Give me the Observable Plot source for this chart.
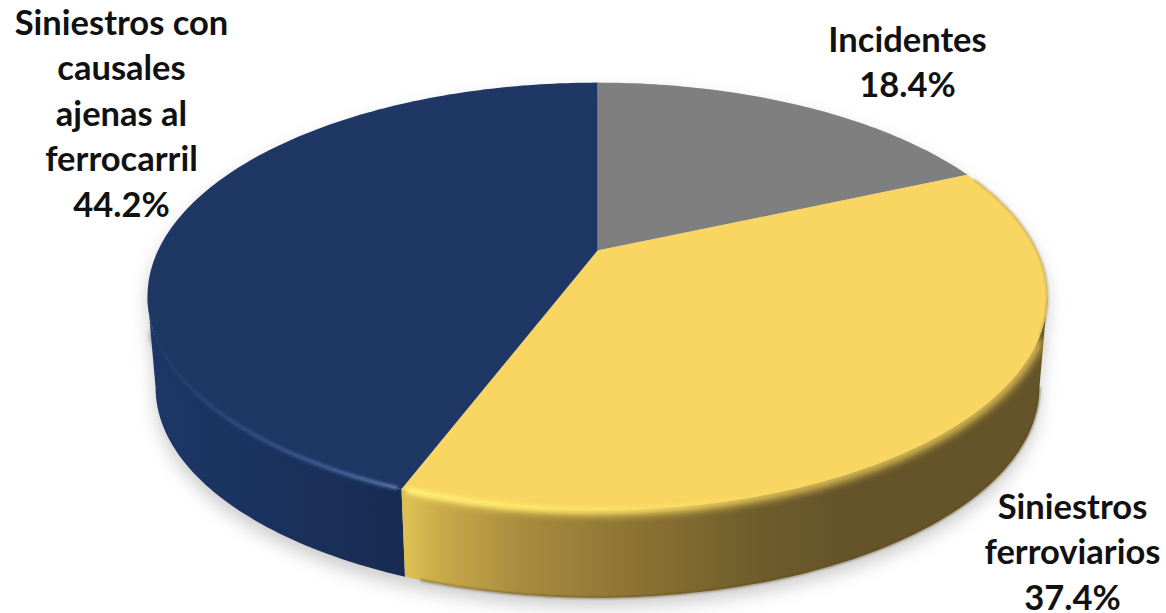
<!DOCTYPE html>
<html lang="es">
<head>
<meta charset="utf-8">
<title>Distribución de siniestros e incidentes</title>
<script src="https://cdn.jsdelivr.net/npm/d3@7"></script>
<script src="https://cdn.jsdelivr.net/npm/@observablehq/plot@0.6"></script>
<style>
  html, body { margin: 0; padding: 0; background: #fff; }
  svg { display: block; }
</style>
</head>
<body>
<div id="chart"></div>
<script>
// Shares of events, clockwise from twelve o'clock
const categorias = ["Incidentes", "Siniestros ferroviarios", "Siniestros con causales ajenas al ferrocarril"];
const porcentajes = [18.4, 37.4, 44.2];
const etiquetas = ["Incidentes", "Siniestros\nferroviarios", "Siniestros con\ncausales\najenas al\nferrocarril"];
const coloresCara = ["#7f7f7f", "#f9d662", "#1f3765"];

const W = 1166, H = 613;
const PX = 450;                 // pixels per plane unit
const apexX = 597, apexY = 250; // where the slices meet, in pixels
const persp = 0.215, sx = 0.9766, sy = 0.4533; // tilt of the disc
const escalaBase = 0.982, grosor = 92 / PX;    // lower rim of the drum

// Angles where the disc's rim turns from front to back
const bordeDer = Math.acos(-persp) * 180 / Math.PI, bordeIzq = 360 - bordeDer;

// Tilted disc: u,v on the unit circle become plane coordinates
function proyecta(grados, abajo = false) {
  const t = grados * Math.PI / 180;
  const u = Math.sin(t), v = Math.cos(t), w = 1 + persp * v;
  const k = abajo ? escalaBase : 1;
  return {x: k * sx * u / w, y: k * sy * v / w - (abajo ? grosor : 0)};
}
function arco(a0, a1, abajo = false) {
  const n = Math.max(2, Math.ceil(Math.abs(a1 - a0)));
  return d3.range(n + 1).map(i => proyecta(a0 + (a1 - a0) * i / n, abajo));
}

// Slice limits accumulated from the shares
const limites = [0];
porcentajes.forEach(p => limites.push(limites[limites.length - 1] + p * 3.6));
const rebanadas = categorias.map((nombre, i) => ({nombre, a0: limites[i], a1: limites[i + 1], color: coloresCara[i]}));
const [gris, amarilla, azul] = rebanadas;

const cara = r => [{x: 0, y: 0}, ...arco(r.a0, r.a1)];
// Only the part of the wall that faces the viewer is drawn
const pared = (a0, a1) => [...arco(a0, a1), ...arco(a1, a0, true)];

const defsMark = () => {
  const g = d3.create("svg:g");
  const defs = g.append("defs");
  const gradiente = (id, stops) => {
    const lg = defs.append("linearGradient").attr("id", id).attr("gradientUnits", "userSpaceOnUse")
      .attr("x1", 140).attr("x2", 1050).attr("y1", 0).attr("y2", 0);
    stops.forEach(([x, c, o = 1]) => lg.append("stop")
      .attr("offset", (x - 140) / 910).attr("stop-color", c).attr("stop-opacity", o));
  };
  gradiente("paredAmarilla", [[408, "#dcc052"], [440, "#c9aa49"], [520, "#a88c3e"], [640, "#8a7233"], [760, "#6e5c2b"], [850, "#655429"], [1050, "#655429"]]);
  gradiente("paredAzul", [[145, "#1d3767"], [260, "#1b325f"], [410, "#182b51"]]);
  gradiente("brilloAmarillo", [[408, "#fff27c", 1], [520, "#ffeb6c", 0.9], [660, "#fde469", 0.55], [800, "#fbe06a", 0], [1050, "#fbe06a", 0]]);
  gradiente("brilloAzul", [[150, "#3d5b92", 0], [230, "#3d5b92", 0.55], [330, "#4a6aa3", 0.85], [410, "#6383b8", 1]]);
  return g.node();
};

const contorno = [...arco(bordeDer, bordeIzq, true), ...arco(bordeIzq, bordeDer + 360)];

const plot = Plot.plot({
  width: W,
  height: H,
  margin: 0,
  style: {background: "#fff"},
  x: {domain: [-apexX / PX, (W - apexX) / PX], range: [0, W], axis: null},
  y: {domain: [apexY / PX, (apexY - H) / PX], range: [0, H], axis: null},
  marks: [
    defsMark,
    // soft shadow on the ground
    Plot.line(contorno.map(p => ({x: p.x, y: p.y - 9 / PX})), {x: "x", y: "y", fill: "#a9a9a9", fillOpacity: 0.6, stroke: "none", imageFilter: "blur(9px)"}),
    // drum wall
    Plot.line(pared(azul.a0, bordeIzq), {x: "x", y: "y", fill: "url(#paredAzul)", stroke: "none"}),
    Plot.line(pared(bordeDer, amarilla.a1), {x: "x", y: "y", fill: "url(#paredAmarilla)", stroke: "none"}),
    // darker lip along the lower rim of the yellow wall
    Plot.line(arco(bordeDer, 199, true), {x: "x", y: "y", stroke: "#5d4a1c", strokeWidth: 2, strokeOpacity: 0.6, imageFilter: "blur(1px)"}),
    // bevel: the face colour melts into the wall, stopping short of the silhouette
    Plot.line(arco(203, bordeIzq - 10), {x: "x", y: "y", stroke: azul.color, strokeWidth: 7, imageFilter: "blur(3px)"}),
    Plot.line(arco(bordeDer + 12, 199), {x: "x", y: "y", stroke: "#e8c85a", strokeWidth: 10, imageFilter: "blur(4px)"}),
    // faces
    ...rebanadas.map(r => Plot.line(cara(r), {x: "x", y: "y", fill: r.color, stroke: "none"})),
    // fine edge round the back of the disc
    Plot.line(arco(68, bordeDer + 10), {x: "x", y: "y", stroke: "#8c7a3c", strokeWidth: 1.5, strokeOpacity: 0.6, imageFilter: "blur(0.8px)"}),
    // highlight on the front of the bevel
    Plot.line(arco(201.5, bordeIzq - 10), {x: "x", y: "y", stroke: "url(#brilloAzul)", strokeWidth: 3.5, imageFilter: "blur(1.5px)"}),
    Plot.line(arco(bordeDer + 12, 200), {x: "x", y: "y", stroke: "url(#brilloAmarillo)", strokeWidth: 6, imageFilter: "blur(2px)"}),
    // labels
    ...[[907, 19], [1072, 486], [121, 2]].map(([dx, dy], i) =>
      Plot.text([`${etiquetas[i]}\n${porcentajes[i].toFixed(1)}%`], {
        text: d => d,
        frameAnchor: "top-left",
        dx, dy,
        textAnchor: "middle",
        lineAnchor: "top",
        lineHeight: 45.5 / 34.5,
        fontFamily: "Lato, 'Open Sans', sans-serif",
        fontWeight: 700,
        fontSize: 34.5,
        fill: "#111"
      }))
  ]
});
document.getElementById("chart").append(plot);
</script>
</body>
</html>
